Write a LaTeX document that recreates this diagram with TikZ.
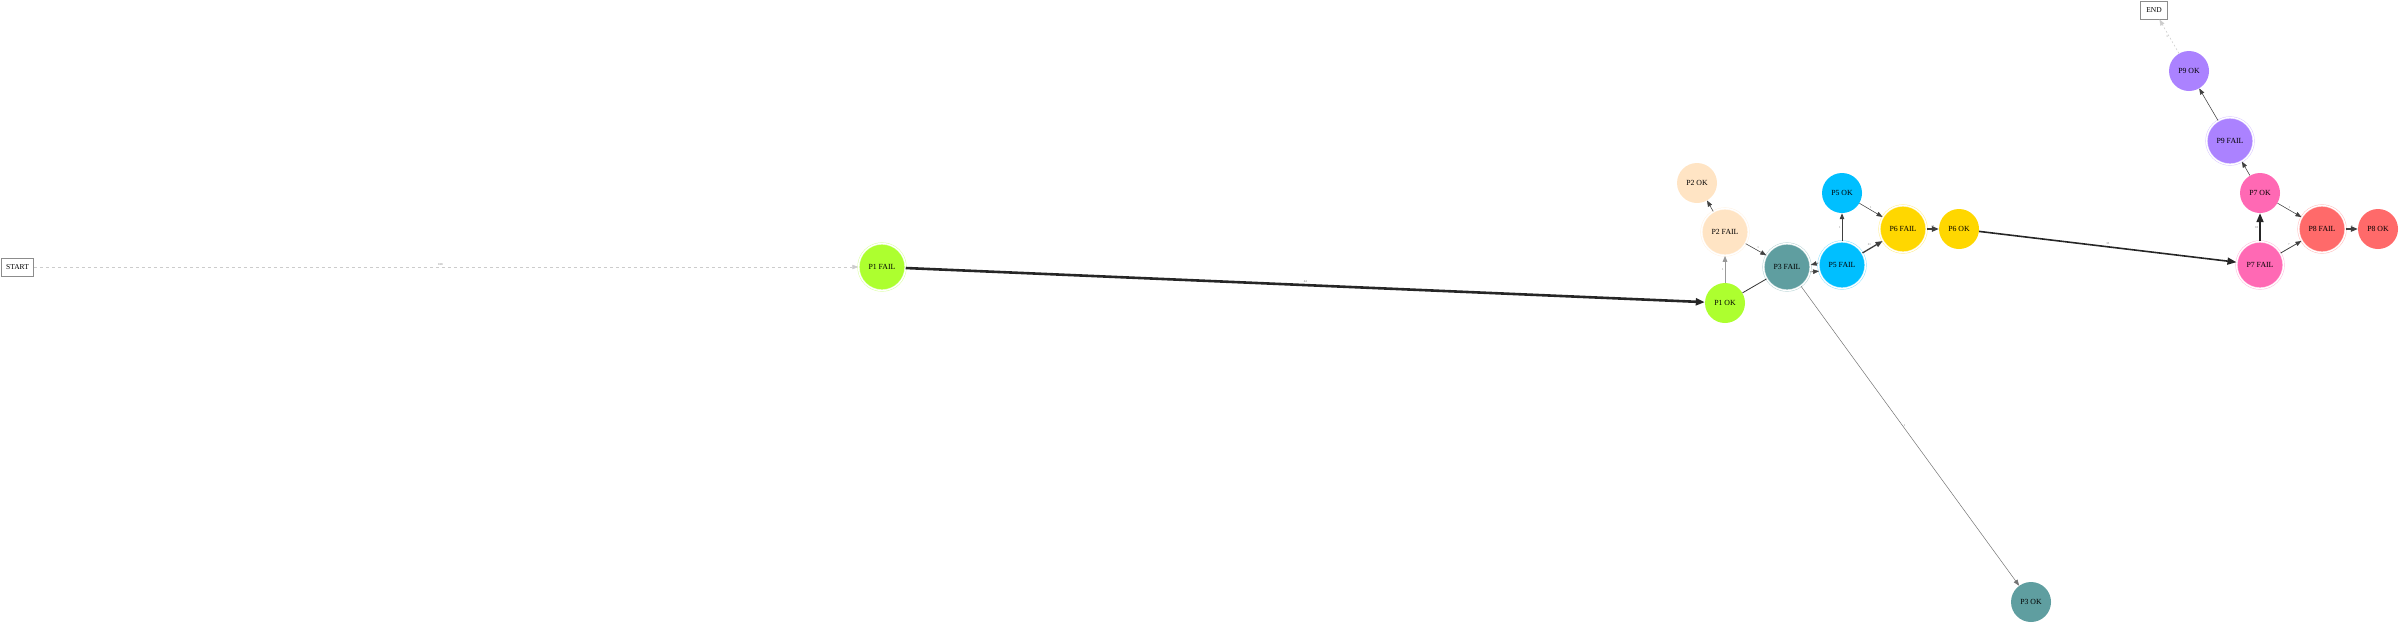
\documentclass[tikz,border=0pt]{standalone}
\usepackage{fontspec}
\setmainfont{Liberation Serif}
\usetikzlibrary{arrows.meta}
\definecolor{cP1}{HTML}{ADFF2F}
\definecolor{cP2}{HTML}{FFE4C4}
\definecolor{cP3}{HTML}{5F9EA0}
\definecolor{cP5}{HTML}{00BFFF}
\definecolor{cP6}{HTML}{FFD700}
\definecolor{cP7}{HTML}{FF69B4}
\definecolor{cP8}{HTML}{FF6A6A}
\definecolor{cP9}{HTML}{AB82FF}
\tikzset{
  oknode/.style={circle, minimum size=40, inner sep=0, fill=#1, draw=none, font=\fontsize{7.8}{8}\selectfont},
  failnode/.style={circle, minimum size=47, inner sep=0, fill=#1, draw=#1!45, double=white, double distance=1.3, line width=0.5, font=\fontsize{7.8}{8}\selectfont},
  boxnode/.style={draw=black!45, line width=0.9, fill=white, minimum width=32, minimum height=18, inner sep=1, font=\fontsize{7.5}{8}\selectfont},
  edge/.style={draw=black!75, line width=#1, -{Triangle[length=6,width=4.5]}},
  edge/.default=0.55,
  bigedge/.style={draw=black!85, line width=#1, -{Triangle[length=9,width=7]}},
  lbl/.style={font=\fontsize{3}{3}\selectfont, text=black!55, inner sep=1}
}
\begin{document}
\begin{tikzpicture}[x=1pt,y=-1pt]
\useasboundingbox (0,0) rectangle (2400,625);
% nodes
\node[boxnode] (start) at (17.5,267) {START};
\node[boxnode, minimum width=27] (end) at (2154,10) {END};
\node[failnode=cP1] (p1f) at (882,267) {P1 FAIL};
\node[oknode=cP1] (p1o) at (1725,303) {P1 OK};
\node[failnode=cP2] (p2f) at (1725,232) {P2 FAIL};
\node[oknode=cP2] (p2o) at (1697,183) {P2 OK};
\node[failnode=cP3] (p3f) at (1787,267) {P3 FAIL};
\node[oknode=cP3] (p3o) at (2031,602) {P3 OK};
\node[failnode=cP5] (p5f) at (1842,265) {P5 FAIL};
\node[oknode=cP5] (p5o) at (1842,193) {P5 OK};
\node[failnode=cP6] (p6f) at (1903,229) {P6 FAIL};
\node[oknode=cP6] (p6o) at (1959,229) {P6 OK};
\node[failnode=cP7] (p7f) at (2260,265) {P7 FAIL};
\node[oknode=cP7] (p7o) at (2260,193) {P7 OK};
\node[failnode=cP8] (p8f) at (2322,229) {P8 FAIL};
\node[oknode=cP8] (p8o) at (2378,229) {P8 OK};
\node[failnode=cP9] (p9f) at (2230,141) {P9 FAIL};
\node[oknode=cP9] (p9o) at (2189,71) {P9 OK};
% edges
\draw[edge, draw=black!20, dashed, dash pattern=on 3pt off 3pt, -{Triangle[length=6,width=4.5,fill=black!20]}] (start) -- node[lbl, above, pos=0.493] {100} (p1f);
\draw[bigedge=2.6] (p1f) -- node[lbl, above] {44} (p1o);
\draw[edge=1, draw=black!40] (p1o) -- node[lbl, left] {1} (p2f);
\draw[edge] (p2f) -- (p2o);
\draw[edge] (p2f) -- node[lbl, above right] {1} (p3f);
\draw[draw=black!80, line width=0.8] (p1o) -- (p3f);
\draw[edge] (p5f.175) -- (p3f.5);
\draw[edge] (p3f.-12) -- (p5f.-165);
\draw[edge=0.9] (p5f) -- node[lbl, left] {1} (p5o);
\draw[edge] (p5o) -- node[lbl, above] {1} (p6f);
\draw[edge=1.3, -{Triangle[length=7,width=5.5]}] (p5f) -- node[lbl, above left] {21} (p6f);
\draw[edge=1.3, -{Triangle[length=7,width=5.5]}] (p6f) -- node[lbl, above] {33} (p6o);
\draw[edge=0.5, draw=black!55] (p3f) -- node[lbl, right, pos=0.465] {1} (p3o);
\draw[bigedge=1.6] (p6o) -- node[lbl, above] {33} (p7f);
\draw[bigedge=1.8] (p7f) -- node[lbl, left] {18} (p7o);
\draw[edge=0.8] (p7f) -- node[lbl, above left] {7} (p8f);
\draw[edge] (p7o) -- node[lbl, above] {1} (p8f);
\draw[edge=1.1, -{Triangle[length=7,width=5.5]}] (p8f) -- node[lbl, above] {8} (p8o);
\draw[edge] (p7o) -- (p9f);
\draw[edge] (p9f) -- (p9o);
\draw[edge, draw=black!20, dashed, dash pattern=on 2pt off 2pt, -{Triangle[length=6,width=4.5,fill=black!20]}] (p9o) -- node[lbl, left] {1} (end);
\end{tikzpicture}
\end{document}
